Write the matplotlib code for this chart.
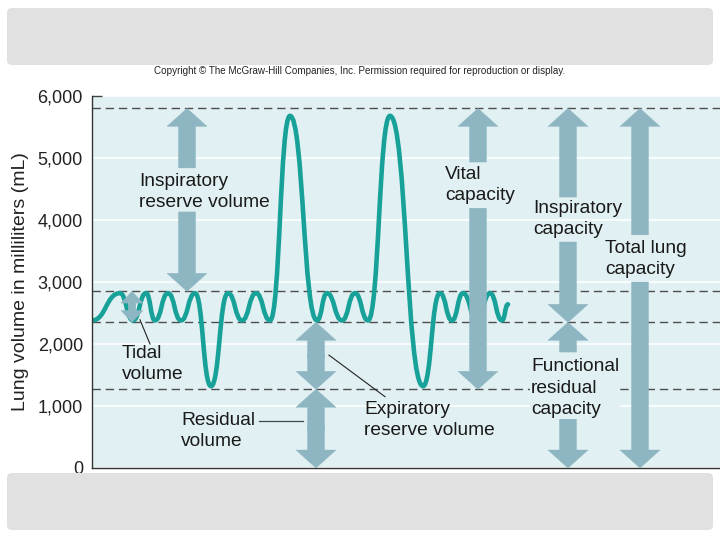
import matplotlib
matplotlib.use('Agg')
import matplotlib.pyplot as plt
from matplotlib.path import Path
from matplotlib.patches import PathPatch, FancyArrow, FancyBboxPatch

plt.rcParams['font.family'] = ['Liberation Sans', 'DejaVu Sans']

# spirogram trace, read as turning points (time, lung volume in mL)
trace_t = [0.0, 2.8, 4.1, 5.4, 6.3, 7.6, 8.9, 10.3, 11.9, 13.6, 15.0, 16.4,
           17.8, 19.8, 22.5, 23.5, 25.0, 26.3, 27.6, 29.8, 33.1, 34.8, 36.0,
           37.1, 38.5, 39.8, 41.0, 41.6]
trace_v = [2380, 2820, 2380, 2820, 2380, 2820, 2380, 2820, 1320, 2820, 2380,
           2820, 2380, 5680, 2380, 2820, 2380, 2820, 2380, 5680, 1320, 2820,
           2380, 2820, 2380, 2820, 2380, 2640]

# reference levels (dashed lines)
levels = [5800, 2850, 2350, 1270]

# double arrows: lower tip, upper tip (mL)
arrow_lo = [2850, 2350, 1270, 0, 1270, 2350, 0, 0]
arrow_hi = [5800, 2850, 2350, 1270, 5800, 5800, 2350, 5800]

yticks = [0, 1000, 2000, 3000, 4000, 5000, 6000]

TEAL = '#17a198'
ARROW = '#8db6c2'
BG = '#e1f0f2'

fig = plt.figure(figsize=(7.2, 5.4), dpi=100)

# grey slide bands
for y0 in [1 - 65 / 540, 10 / 540]:
    fig.patches.append(FancyBboxPatch((7 / 720, y0), 706 / 720, 57 / 540,
                                      boxstyle='round,pad=0,rounding_size=0.008',
                                      transform=fig.transFigure,
                                      facecolor='#e1e1e1', edgecolor='none'))
fig.text(0.5, 1 - 71 / 540,
         'Copyright \u00a9 The McGraw-Hill Companies, Inc. Permission required for reproduction or display.',
         ha='center', va='center', fontsize=7.15, color='#222222')

ax = fig.add_axes([92 / 720, 72 / 540, 1 - 92 / 720, 372 / 540])
ax.set_facecolor(BG)
ax.set_xlim(0, 62.8)
ax.set_ylim(0, 6000)
ax.set_xticks([])
ax.set_yticks(yticks)
ax.set_yticklabels([f'{v:,}' for v in yticks])
ax.tick_params(axis='y', length=0, pad=6.5, labelsize=13, colors='#222222')
ax.set_yticks([6000], minor=True)
ax.yaxis.remove_overlapping_locs = False
ax.tick_params(axis='y', which='minor', direction='in', length=7, width=1, color='#444444')
for s in ['top', 'right']:
    ax.spines[s].set_visible(False)
for s in ['left', 'bottom']:
    ax.spines[s].set_color('#333333')
    ax.spines[s].set_linewidth(1)
ax.yaxis.grid(True, color='white', lw=1.2)
ax.set_axisbelow(True)
ax.set_ylabel('Lung volume in milliliters (mL)', fontsize=14, labelpad=6, color='#222222')

for lv in levels:
    ax.axhline(lv, color='#4d4d4d', lw=1, dashes=(6, 3.5), zorder=1)

# smooth trace through the turning points (flat tangents at each one)
verts = [(trace_t[0], trace_v[0])]
codes = [Path.MOVETO]
for t0, v0, t1, v1 in zip(trace_t[:-1], trace_v[:-1], trace_t[1:], trace_v[1:]):
    d = (t1 - t0) * 0.5
    verts += [(t0 + d, v0), (t1 - d, v1), (t1, v1)]
    codes += [Path.CURVE4] * 3
ax.add_patch(PathPatch(Path(verts, codes), fill=False, edgecolor=TEAL, lw=3.3,
                       capstyle='round', joinstyle='round', zorder=2))

# arrow layout: x position, text gap (lower, upper) or None
arrow_x = [9.5, 4.0, 22.4, 22.4, 38.6, 47.6, 47.6, 54.8]
arrow_gap = [(4130, 4840), None, None, None, (4190, 4935), (3645, 4370),
             (850, 1870), (3000, 3760)]


def half_arrow(x, start, tip, small=False):
    w, hw, hl = (0.7, 2.2, 190) if small else (1.7, 4.0, 290)
    ax.add_patch(FancyArrow(x, start, 0, tip - start, width=w, head_width=hw,
                            head_length=hl, length_includes_head=True,
                            facecolor=ARROW, edgecolor=ARROW, lw=0.3, zorder=3))


for i, (x, lo, hi, gap) in enumerate(zip(arrow_x, arrow_lo, arrow_hi, arrow_gap)):
    small = i == 1
    if gap is None:
        mid = (lo + hi) / 2
        # overlap the halves a little so no seam shows
        half_arrow(x, mid - 40, hi, small)
        half_arrow(x, mid + 40, lo, small)
    else:
        half_arrow(x, gap[1], hi)
        half_arrow(x, gap[0], lo)

txt = dict(ha='left', va='center', fontsize=13.8, color='#1a1a1a', zorder=4,
           linespacing=1.32)
ax.text(4.7, 4450, 'Inspiratory\nreserve volume', **txt)
ax.text(3.0, 1680, 'Tidal\nvolume', **txt)
ax.text(8.9, 600, 'Residual\nvolume', **txt)
ax.text(27.2, 780, 'Expiratory\nreserve volume', **txt)
ax.text(35.3, 4560, 'Vital\ncapacity', **txt)
ax.text(44.1, 4020, 'Inspiratory\ncapacity', **txt)
ax.text(51.3, 3370, 'Total lung\ncapacity', **txt)
ax.text(43.9, 1290, 'Functional\nresidual\ncapacity',
        bbox=dict(facecolor=BG, edgecolor='none', pad=1), **txt)

# leader lines
ax.plot([4.8, 5.8], [2390, 2000], color='#222222', lw=0.8, zorder=4)
ax.plot([23.7, 29.3], [1820, 1150], color='#222222', lw=0.8, zorder=4)
ax.plot([16.7, 21.1], [760, 760], color='#3a4a50', lw=0.9, zorder=4)

fig.savefig('out.png', dpi=100)
